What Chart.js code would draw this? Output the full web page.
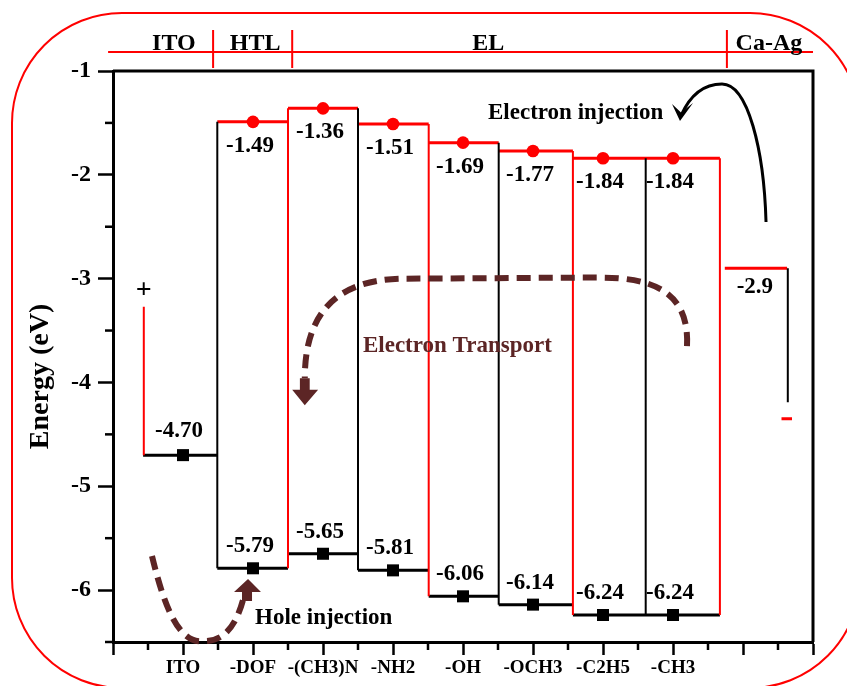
<!DOCTYPE html>
<html lang="en">
<head>
	<meta charset="UTF-8">
	<title>Energy levels</title>
	<script src="https://cdn.jsdelivr.net/npm/chart.js@4.4.1/dist/chart.umd.min.js"></script>
	<style>
		body,html{padding:0;margin:0;background:#fff;}
		#wrap{width:847px;height:686px;}
	</style>
</head>
<body>
	<div id="wrap"><canvas id="energyChart" width="847" height="686"></canvas></div>
	<script>
		// data
		var xLabels = ['ITO','-DOF','-(CH3)N','-NH2','-OH','-OCH3','-C2H5','-CH3'];
		var layers = ['-DOF','-(CH3)N','-NH2','-OH','-OCH3','-C2H5','-CH3'];
		var lumo = [-1.49,-1.36,-1.51,-1.69,-1.77,-1.84,-1.84];
		var homo = [-5.79,-5.65,-5.81,-6.06,-6.14,-6.24,-6.24];
		var itoLevel = -4.70;
		var cathodeLevel = -2.9;
		var regions = ['ITO','HTL','EL','Ca-Ag'];

		// layout of the boxes (x in axis units)
		var edges = [1.49,2.5,3.5,4.51,5.51,6.57,7.61,8.67];
		var RED = '#ff0000', BROWN = '#5c2525';
		var SERIF = "'Liberation Serif','Times New Roman',serif";

		Chart.defaults.font.family = SERIF;
		Chart.defaults.font.weight = 'bold';
		Chart.defaults.color = '#000';

		var lumoLines = [], homoLines = [], redSides = [], blackSides = [];
		layers.forEach(function(name,i){
			lumoLines.push({x:edges[i],y:lumo[i]},{x:edges[i+1],y:lumo[i]},{x:edges[i+1],y:null});
			homoLines.push({x:edges[i],y:homo[i]},{x:edges[i+1],y:homo[i]},{x:edges[i+1],y:null});
		});
		edges.forEach(function(e,i){
			var a = Math.max(0,i-1), b = Math.min(layers.length-1,i);
			var top = Math.max(lumo[a],lumo[b]), bot = Math.min(homo[a],homo[b]);
			var list = (i % 2 == 0) ? blackSides : redSides;
			list.push({x:e,y:top},{x:e,y:bot},{x:e,y:null});
		});
		// ITO and cathode
		redSides.push({x:0.44,y:-3.27},{x:0.44,y:itoLevel},{x:0.44,y:null});
		homoLines.push({x:0.43,y:itoLevel},{x:1.5,y:itoLevel},{x:1.5,y:null});
		blackSides.push({x:9.64,y:cathodeLevel},{x:9.64,y:-4.19},{x:9.64,y:null});
		var cathodeLines = [{x:8.74,y:cathodeLevel},{x:9.63,y:cathodeLevel},{x:9.63,y:null},{x:9.55,y:-4.35},{x:9.7,y:-4.35}];

		var lumoPts = lumo.map(function(v,i){ return {x:i+2,y:v}; });
		var homoPts = [{x:1,y:itoLevel}].concat(homo.map(function(v,i){ return {x:i+2,y:v}; }));

		function lineSet(data,color,w){
			return {data:data,showLine:true,borderColor:color,borderWidth:w,pointRadius:0,spanGaps:false,fill:false};
		}

		var decor = {
			id:'decor',
			beforeDraw:function(chart){
				var c = chart.ctx;
				c.save();
				c.strokeStyle = RED; c.lineWidth = 2;
				c.beginPath();
				c.roundRect(12,13,848,675,110);
				c.stroke();
				c.restore();
			},
			afterDraw:function(chart){
				var c = chart.ctx, sx = chart.scales.x, sy = chart.scales.y, a = chart.chartArea;
				function X(v){ return sx.getPixelForValue(v); }
				function Y(v){ return sy.getPixelForValue(v); }
				function P(x,y){ return [X(x),Y(y)]; }
				c.save();
				// frame
				c.strokeStyle = '#000'; c.lineWidth = 3;
				c.beginPath();
				c.moveTo(a.left,a.top); c.lineTo(a.right,a.top); c.lineTo(a.right,a.bottom);
				c.stroke();
				// minor ticks
				c.lineWidth = 2.5;
				sx.ticks.forEach(function(t){
					if(!Number.isInteger(t.value)){
						c.beginPath(); c.moveTo(X(t.value),a.bottom); c.lineTo(X(t.value),a.bottom+8); c.stroke();
					}
				});
				sy.ticks.forEach(function(t){
					if(!Number.isInteger(t.value)){
						c.beginPath(); c.moveTo(a.left-8,Y(t.value)); c.lineTo(a.left,Y(t.value)); c.stroke();
					}
				});
				// header
				c.strokeStyle = RED; c.lineWidth = 2;
				c.beginPath();
				c.moveTo(X(-0.07),a.top-19); c.lineTo(X(10),a.top-19);
				[1.43,2.56,8.77].forEach(function(v){ c.moveTo(X(v),a.top-41); c.lineTo(X(v),a.top-3); });
				c.stroke();
				c.fillStyle = '#000';
				c.font = 'bold 24px ' + SERIF;
				c.textAlign = 'center'; c.textBaseline = 'alphabetic';
				[0.87,2.03,5.36,9.37].forEach(function(v,i){ c.fillText(regions[i],X(v),a.top-21); });
				// value labels
				c.font = 'bold 23px ' + SERIF;
				c.textBaseline = 'middle';
				layers.forEach(function(n,i){
					c.fillText(lumo[i].toFixed(2),X(i+2)-3,Y(lumo[i])+24);
					c.fillText(homo[i].toFixed(2),X(i+2)-3,Y(homo[i])-22);
				});
				c.fillText(itoLevel.toFixed(2),X(1)-4,Y(itoLevel)-24);
				c.fillText(String(cathodeLevel),X(9.17),Y(cathodeLevel)+19);
				c.font = 'bold 28px ' + SERIF;
				c.fillText('+',X(0.44),Y(-3.12));
				// axis title
				c.save();
				c.translate(41,(a.top+a.bottom)/2+20);
				c.rotate(-Math.PI/2);
				c.font = 'bold 28px ' + SERIF;
				c.fillText('Energy (eV)',0,0);
				c.restore();
				// annotations
				c.textAlign = 'left';
				c.font = 'bold 23px ' + SERIF;
				c.fillText('Electron injection',X(5.357),Y(-1.405));
				c.fillText('Hole injection',X(2.029),Y(-6.27));
				c.fillStyle = BROWN;
				c.fillText('Electron Transport',X(3.571),Y(-3.649));

				function curve(pts){
					c.beginPath();
					c.moveTo.apply(c,P(pts[0][0],pts[0][1]));
					for(var i=1;i<pts.length;i+=3){
						var p1=P(pts[i][0],pts[i][1]),p2=P(pts[i+1][0],pts[i+1][1]),p3=P(pts[i+2][0],pts[i+2][1]);
						c.bezierCurveTo(p1[0],p1[1],p2[0],p2[1],p3[0],p3[1]);
					}
					c.stroke();
				}
				function poly(pts){
					c.beginPath();
					pts.forEach(function(q,i){ var p=P(q[0],q[1]); if(i==0) c.moveTo(p[0],p[1]); else c.lineTo(p[0],p[1]); });
					c.closePath(); c.fill();
				}
				// electron transport
				c.strokeStyle = BROWN; c.fillStyle = BROWN; c.lineWidth = 6;
				c.setLineDash([14,8]);
				curve([[8.2,-3.65],[8.24,-3.11],[7.67,-2.99],[6.96,-2.99],[6.0,-2.99],[5.0,-3.0],[4.1,-3.0],[3.1,-3.02],[2.74,-3.40],[2.74,-3.96]]);
				// hole injection
				curve([[0.557,-5.672],[0.743,-6.193],[0.957,-6.53],[1.314,-6.491],[1.643,-6.491],[1.786,-6.27],[1.857,-6.096]]);
				c.setLineDash([]);
				poly([[2.67,-3.96],[2.81,-3.96],[2.81,-4.07],[2.93,-4.07],[2.74,-4.22],[2.56,-4.07],[2.67,-4.07]]);
				poly([[1.843,-6.106],[1.986,-6.106],[1.986,-6.019],[2.114,-6.019],[1.929,-5.894],[1.729,-6.019],[1.843,-6.019]]);
				// electron injection
				c.strokeStyle = '#000'; c.fillStyle = '#000'; c.lineWidth = 3;
				curve([[9.329,-2.455],[9.30,-1.761],[9.071,-1.125],[8.70,-1.125],[8.386,-1.125],[8.214,-1.279],[8.114,-1.43]]);
				poly([[8.10,-1.482],[7.986,-1.318],[8.114,-1.40],[8.286,-1.308]]);
				c.restore();
			}
		};

		var chart = new Chart(document.getElementById('energyChart').getContext('2d'),{
			type:'scatter',
			data:{
				datasets:[
					lineSet(redSides,RED,2),
					lineSet(blackSides,'#000',2),
					lineSet(lumoLines,RED,3),
					lineSet(homoLines,'#000',3),
					lineSet(cathodeLines,RED,3),
					{data:lumoPts,pointStyle:'circle',pointRadius:6.3,backgroundColor:RED,borderColor:RED,borderWidth:0},
					{data:homoPts,pointStyle:'rect',pointRadius:8.5,backgroundColor:'#000',borderColor:'#000',borderWidth:0}
				]
			},
			options:{
				responsive:false,
				animation:false,
				devicePixelRatio:1,
				layout:{padding:{top:71,right:34,left:0,bottom:0}},
				plugins:{legend:{display:false},tooltip:{enabled:false}},
				scales:{
					x:{
						type:'linear',min:0,max:10,
						afterFit:function(s){ s.height = 44; },
						ticks:{stepSize:0.5,autoSkip:false,maxRotation:0,padding:2,font:{size:19,weight:'bold'},
							callback:function(v){ return Number.isInteger(v) ? (xLabels[v-1] || '') : ''; }},
						grid:{drawOnChartArea:false,tickLength:13,tickWidth:2.5,
							tickColor:function(ctx){ return Number.isInteger(ctx.tick.value) ? '#000' : 'rgba(0,0,0,0)'; }},
						border:{color:'#000',width:3}
					},
					y:{
						type:'linear',min:-6.5,max:-1,
						afterFit:function(s){ s.width = 113; },
						ticks:{stepSize:0.5,padding:7,font:{size:24,weight:'bold'},
							callback:function(v){ return Number.isInteger(v) ? String(v) : ''; }},
						grid:{drawOnChartArea:false,tickLength:15,tickWidth:2.5,
							tickColor:function(ctx){ return Number.isInteger(ctx.tick.value) ? '#000' : 'rgba(0,0,0,0)'; }},
						border:{color:'#000',width:3}
					}
				}
			},
			plugins:[decor]
		});
	</script>
</body>
</html>
